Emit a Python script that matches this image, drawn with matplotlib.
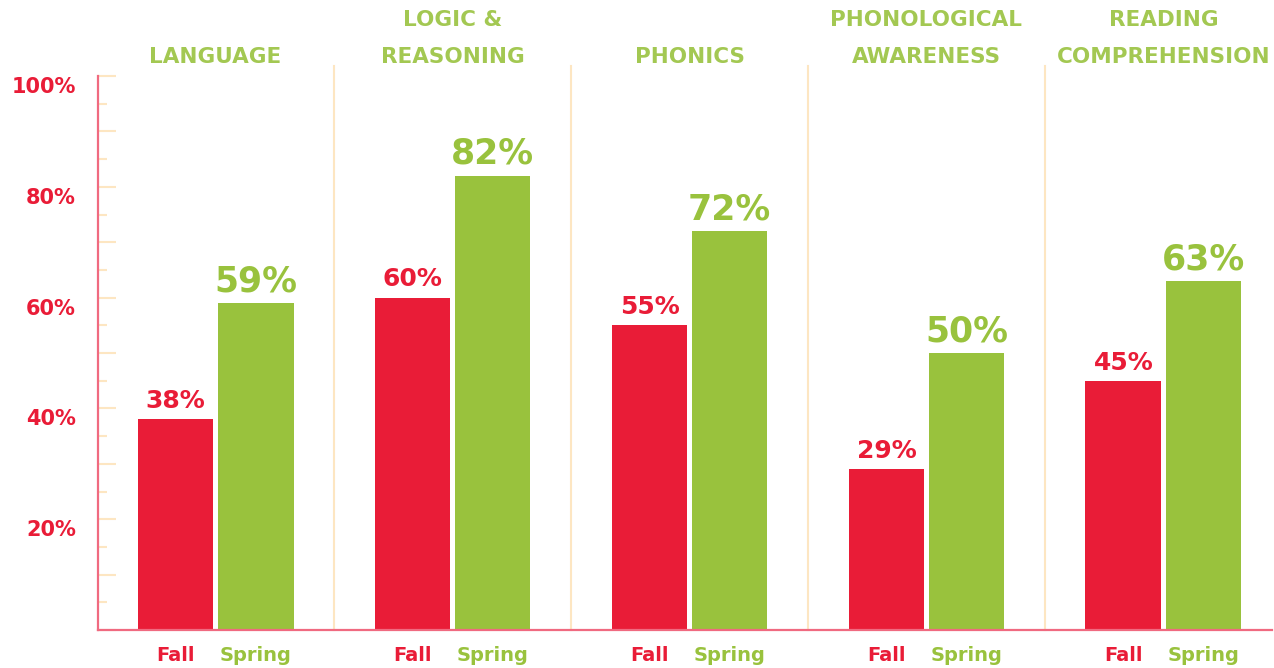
import numpy as np
import matplotlib
matplotlib.use("Agg")
import matplotlib.pyplot as plt
from matplotlib.transforms import ScaledTranslation, blended_transform_factory

categories = ["LANGUAGE", "LOGIC &\nREASONING", "PHONICS",
              "PHONOLOGICAL\nAWARENESS", "READING\nCOMPREHENSION"]
fall = [38, 60, 55, 29, 45]
spring = [59, 82, 72, 50, 63]
series_names = ["Fall", "Spring"]
ytick_vals = [20, 40, 60, 80, 100]
ytick_labels = ["20%", "40%", "60%", "80%", "100%"]

red = "#e91c37"
green = "#99c23d"
title_green = "#a3c852"
axis_red = "#f06a80"
beige = "#fde6c2"

plt.rcParams['font.family'] = ['DejaVu Sans']

fig = plt.figure(figsize=(12.74, 6.68), dpi=100)
ax = fig.add_axes([98/1274, 38/668, 1174/1274, 554/668])

x = np.arange(len(categories))
w = 0.32
off = 0.169
ax.bar(x - off, fall, w, color=red, edgecolor="none")
ax.bar(x + off, spring, w, color=green, edgecolor="none")

for xi, f, s in zip(x, fall, spring):
    ax.annotate(f"{f}%", (xi - off, f), xytext=(0, 8), textcoords="offset points",
                ha="center", va="baseline", color=red, fontsize=18, fontweight="bold")
    ax.annotate(f"{s}%", (xi + off, s), xytext=(0, 8.5), textcoords="offset points",
                ha="center", va="baseline", color=green, fontsize=25, fontweight="bold")

trans = blended_transform_factory(ax.transData, ax.transAxes)
for xi, cat in zip(x, categories):
    ax.text(xi, 1.016, cat, transform=trans, ha="center", va="bottom",
            color=title_green, fontsize=15.5, fontweight="bold", linespacing=2.1)
    ax.text(xi - off, -0.056, series_names[0], transform=trans, ha="center",
            va="baseline", color=red, fontsize=14, fontweight="bold")
    ax.text(xi + off, -0.056, series_names[1], transform=trans, ha="center",
            va="baseline", color=green, fontsize=14, fontweight="bold")

# group separators
for xs in x[:-1] + 0.5:
    ax.axvline(xs, ymin=0, ymax=1.018, color=beige, lw=1.5, clip_on=False, zorder=0)

ax.set_xlim(-0.496, 4.458)
ax.set_ylim(0, 100)
ax.set_xticks([])
ax.set_yticks(np.arange(0, 101, 10))
ax.set_yticks(np.arange(5, 100, 10), minor=True)
ax.set_yticklabels(["", ""] + [ytick_labels[0], ""] + [ytick_labels[1], ""] +
                   [ytick_labels[2], ""] + [ytick_labels[3], ""] + [ytick_labels[4]])
ax.tick_params(axis="y", which="major", direction="in", length=13, width=1.5,
               color=beige, labelcolor=red, labelsize=15, pad=16)
ax.tick_params(axis="y", which="minor", direction="in", length=6.5, width=1.5, color=beige)
for lab in ax.get_yticklabels():
    lab.set_fontweight("bold")
    lab.set_transform(lab.get_transform() + ScaledTranslation(0, -9/100, fig.dpi_scale_trans))

for side in ["top", "right"]:
    ax.spines[side].set_visible(False)
ax.spines["left"].set_color(axis_red)
ax.spines["left"].set_linewidth(1.6)
ax.spines["bottom"].set_color(axis_red)
ax.spines["bottom"].set_linewidth(1.6)

fig.savefig("out.png", dpi=100)
